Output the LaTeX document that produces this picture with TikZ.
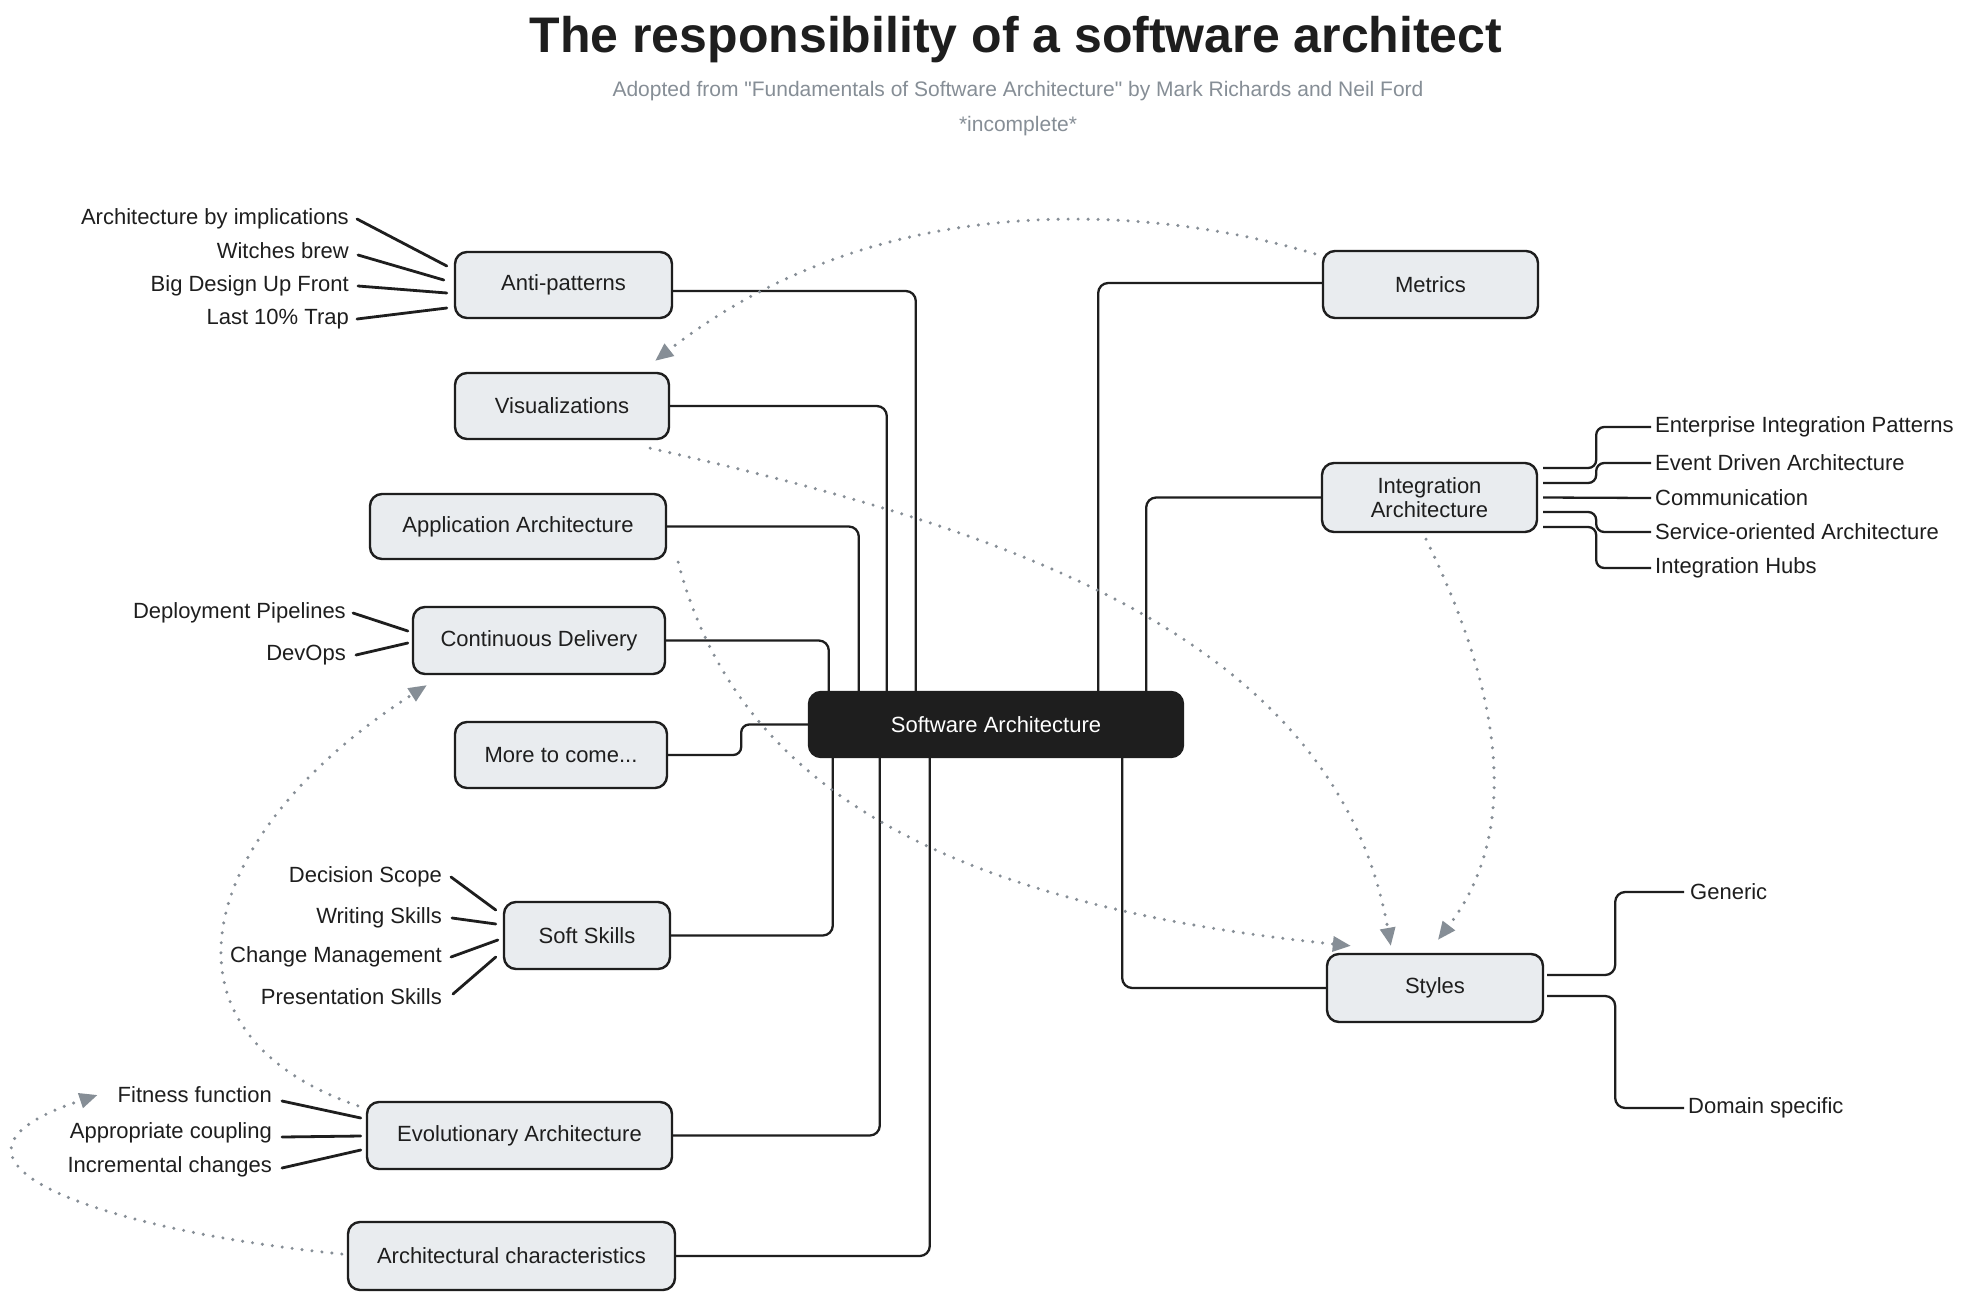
\documentclass[tikz,border=0pt]{standalone}
\usepackage{fontspec}
\setmainfont{Liberation Sans}
\newfontfamily\plainsans{Liberation Sans}
\usetikzlibrary{arrows.meta}
\definecolor{ink}{HTML}{1E1E1E}
\definecolor{boxfill}{HTML}{E9ECEF}
\definecolor{dotgray}{HTML}{868E96}
\begin{document}
\begin{tikzpicture}[x=1pt,y=-1pt,
  box/.style={draw=ink, fill=boxfill, line width=2.4pt, rounded corners=12pt,
    font=\fontsize{22}{24}\selectfont, text=ink, inner sep=0pt, align=center},
  core/.style={draw=ink, fill=ink, line width=2.4pt, rounded corners=12pt,
    font=\fontsize{22}{24}\selectfont, text=white, inner sep=0pt},
  lbl/.style={font=\fontsize{22}{24}\selectfont, text=ink, inner sep=0pt},
  conn/.style={draw=ink, line width=2.3pt, rounded corners=10pt},
  leg/.style={draw=ink, line width=2.8pt, line cap=round},
  rel/.style={draw=dotgray, line width=3.4pt, line cap=round, dash pattern=on 0pt off 10pt,
    -{Triangle[length=18pt,width=15pt,fill=dotgray]}},
]
\fill[white] (0,0) rectangle (1982,1299);
\useasboundingbox (0,0) rectangle (1982,1299);

% titles
\node[font=\fontsize{50}{60}\selectfont\bfseries, text=ink] (title) at (1016,40) {The responsibility of a software architect};
\node[font=\plainsans\fontsize{21}{25}\selectfont, text=dotgray] (sub) at (1018,91) {Adopted from "Fundamentals of Software Architecture" by Mark Richards and Neil Ford};
\node[font=\fontsize{21}{25}\selectfont, text=dotgray] (inc) at (1018,126) {*incomplete*};

% nodes
\node[core, minimum width=374pt, minimum height=65pt] (sa) at (996,724.5) {Software Architecture};
\node[box, minimum width=217pt, minimum height=66pt] (anti) at (563.5,285) {Anti-patterns};
\node[box, minimum width=214pt, minimum height=66pt] (vis) at (562,406) {Visualizations};
\node[box, minimum width=296pt, minimum height=65pt] (app) at (518,526.5) {Application Architecture};
\node[box, minimum width=252pt, minimum height=67pt] (cd) at (539,640.5) {Continuous Delivery};
\node[box, minimum width=212pt, minimum height=66pt] (more) at (561,755) {More to come...};
\node[box, minimum width=166pt, minimum height=67pt] (soft) at (587,935.5) {Soft Skills};
\node[box, minimum width=305pt, minimum height=67pt] (evo) at (519.5,1135.5) {Evolutionary Architecture};
\node[box, minimum width=327pt, minimum height=68pt] (archc) at (511.5,1256) {Architectural characteristics};
\node[box, minimum width=215pt, minimum height=67pt] (metrics) at (1430.5,284.5) {Metrics};
\node[box, minimum width=215pt, minimum height=69pt] (integ) at (1429.5,497.5) {Integration\\Architecture};
\node[box, minimum width=216pt, minimum height=68pt] (styles) at (1435,988) {Styles};

% main connectors
\draw[conn] ([yshift=-6pt]anti.east) -| ([xshift=108pt]sa.north west);
\draw[conn] (vis.east) -| ([xshift=79pt]sa.north west);
\draw[conn] (app.east) -| ([xshift=51pt]sa.north west);
\draw[conn] (cd.east) -| ([xshift=21pt]sa.north west);
\draw[conn, rounded corners=8pt] (more.east) -- ++(73,0) |- (sa.west);
\draw[conn] (soft.east) -| ([xshift=25pt]sa.south west);
\draw[conn] (evo.east) -| ([xshift=72pt]sa.south west);
\draw[conn] (archc.east) -| ([xshift=122pt]sa.south west);
\draw[conn] ([yshift=1.5pt]metrics.west) -| ([xshift=-86pt]sa.north east);
\draw[conn] (integ.west) -| ([xshift=-38pt]sa.north east);
\draw[conn] (styles.west) -| ([xshift=-62pt]sa.south east);

% anti-pattern leaves
\node[lbl, anchor=east] (abi) at (349,219) {Architecture by implications};
\node[lbl, anchor=east] (wb) at (349,251) {Witches brew};
\node[lbl, anchor=east] (bduf) at (349,286) {Big Design Up Front};
\node[lbl, anchor=east] (l10) at (349,319) {Last 10\% Trap};
\draw[leg] ([xshift=8pt]abi.east) -- ([shift={(-7pt,19pt)}]anti.west);
\draw[leg] ([shift={(9pt,-4pt)}]wb.east) -- ([shift={(-10pt,5pt)}]anti.west);
\draw[leg] ([xshift=9pt]bduf.east) -- ([shift={(-7pt,-8pt)}]anti.west);
\draw[leg] ([xshift=8pt]l10.east) -- ([shift={(-7pt,-23pt)}]anti.west);

% continuous delivery leaves
\node[lbl, anchor=east] (dp) at (346,613) {Deployment Pipelines};
\node[lbl, anchor=east] (devops) at (346,655) {DevOps};
\draw[leg] ([xshift=7pt]dp.east) -- ([shift={(-4pt,9.5pt)}]cd.west);
\draw[leg] ([xshift=10pt]devops.east) -- ([shift={(-4pt,-2.5pt)}]cd.west);

% soft skills leaves
\node[lbl, anchor=east] (ds) at (442,877) {Decision Scope};
\node[lbl, anchor=east] (ws) at (442,918) {Writing Skills};
\node[lbl, anchor=east] (cm) at (442,957) {Change Management};
\node[lbl, anchor=east] (ps) at (442,997) {Presentation Skills};
\draw[leg] ([xshift=9pt]ds.east) -- ([shift={(-7pt,25.5pt)}]soft.west);
\draw[leg] ([xshift=10pt]ws.east) -- ([shift={(-7pt,11.5pt)}]soft.west);
\draw[leg] ([xshift=9pt]cm.east) -- ([shift={(-5pt,-4.5pt)}]soft.west);
\draw[leg] ([shift={(11pt,3pt)}]ps.east) -- ([shift={(-7pt,-21.5pt)}]soft.west);

% evolutionary leaves
\node[lbl, anchor=east] (ff) at (272,1095) {Fitness function};
\node[lbl, anchor=east] (ac) at (272,1133) {Appropriate coupling};
\node[lbl, anchor=east] (ic) at (272,1167) {Incremental changes};
\draw[leg] ([shift={(10pt,-6pt)}]ff.east) -- ([shift={(-5pt,17.5pt)}]evo.west);
\draw[leg] ([shift={(10pt,-4pt)}]ac.east) -- ([shift={(-5pt,-0.5pt)}]evo.west);
\draw[leg] ([shift={(10pt,-1pt)}]ic.east) -- ([shift={(-5pt,-14.5pt)}]evo.west);

% integration leaves
\node[lbl, anchor=west] (eip) at (1655,427) {Enterprise Integration Patterns};
\node[lbl, anchor=west] (eda) at (1655,463) {Event Driven Architecture};
\node[lbl, anchor=west] (comm) at (1655,498) {Communication};
\node[lbl, anchor=west] (soa) at (1655,532) {Service-oriented Architecture};
\node[lbl, anchor=west] (hubs) at (1655,568) {Integration Hubs};
\draw[conn, rounded corners=8pt] ([shift={(5pt,29.5pt)}]integ.east) -- ++(53,0) |- ([xshift=-4pt]eip.west);
\draw[conn, rounded corners=8pt] ([shift={(5pt,14.5pt)}]integ.east) -- ++(53,0) |- ([xshift=-4pt]eda.west);
\draw[conn] ([xshift=5pt]integ.east) -- ([xshift=-4pt]comm.west);
\draw[conn, rounded corners=8pt] ([shift={(5pt,-14.5pt)}]integ.east) -- ++(53,0) |- ([xshift=-4pt]soa.west);
\draw[conn, rounded corners=8pt] ([shift={(5pt,-29.5pt)}]integ.east) -- ++(53,0) |- ([xshift=-4pt]hubs.west);

% styles leaves
\node[lbl, anchor=west] (generic) at (1690,892) {Generic};
\node[lbl, anchor=west] (domain) at (1688,1108) {Domain specific};
\draw[conn] ([shift={(3pt,13pt)}]styles.east) -- ++(68,0) |- ([xshift=-6pt]generic.west);
\draw[conn] ([shift={(3pt,-8pt)}]styles.east) -- ++(68,0) |- ([xshift=-4pt]domain.west);

% dotted relations
\draw[rel] ([shift={(-7pt,-4pt)}]metrics.north west) .. controls (1150,205) and (880,185) .. ([shift={(-15pt,11pt)}]vis.north east);
\draw[rel] ([shift={(-20pt,-8pt)}]vis.south east) .. controls (990,525) and (1335,630) .. ([shift={(65pt,7pt)}]styles.north west);
\draw[rel] ([shift={(11pt,-2pt)}]app.south east) .. controls (730,760) and (900,900) .. ([shift={(25pt,7pt)}]styles.north west);
\draw[rel] ([shift={(-3.5pt,-6pt)}]integ.south) .. controls (1490,670) and (1530,820) .. ([shift={(3pt,13pt)}]styles.north);
\draw[rel] ([shift={(-8pt,-5pt)}]evo.north west) .. controls (140,1030) and (200,830) .. ([shift={(15pt,-10pt)}]cd.south west);
\draw[rel] ([shift={(-5pt,2pt)}]archc.west) .. controls (100,1230) and (-100,1160) .. ([xshift=-20pt]ff.west);
\end{tikzpicture}
\end{document}
